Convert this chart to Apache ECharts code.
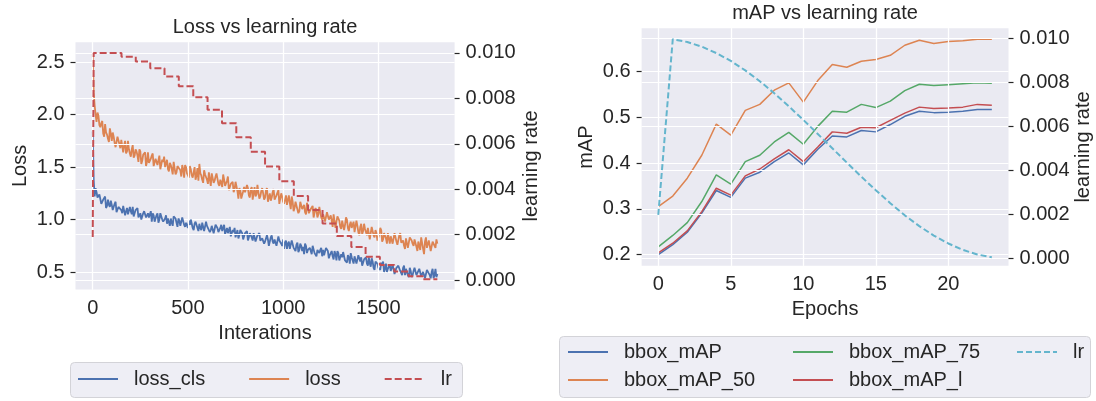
<!DOCTYPE html>
<html>
<head>
<meta charset="utf-8">
<script src="https://cdn.jsdelivr.net/npm/echarts@6/dist/echarts.min.js"></script>
<style>
  html, body { margin: 0; padding: 0; background: #ffffff; }
  #chart { width: 1096px; height: 401px; }
</style>
</head>
<body>
<div id="chart"></div>
<script>
// ---- training log: losses sampled every 5 iterations ----
const lossStep = 5;
const lossCls = [
  1.84, 1.38, 1.22, 1.30, 1.26, 1.21, 1.20, 1.24, 1.25, 1.15, 1.15, 1.19, 1.19, 1.22, 1.11, 1.13, 1.19, 1.14, 1.12, 1.18,
  1.14, 1.09, 1.10, 1.15, 1.17, 1.07, 1.07, 1.12, 1.12, 1.13, 1.09, 1.06, 1.13, 1.14, 1.04, 1.08, 1.11, 1.05, 1.06, 1.12,
  1.08, 1.05, 1.12, 1.03, 1.03, 1.09, 1.08, 1.11, 1.02, 1.04, 1.06, 1.00, 1.00, 1.06, 1.08, 1.08, 1.02, 1.01, 1.06, 1.02,
  1.02, 1.08, 0.98, 1.06, 1.04, 0.98, 0.99, 1.04, 1.06, 0.97, 1.00, 1.06, 1.06, 1.00, 0.98, 0.97, 1.01, 1.04, 0.96, 1.01,
  1.02, 0.94, 1.01, 0.97, 0.94, 1.03, 1.02, 1.01, 0.97, 0.93, 1.01, 0.99, 0.94, 0.94, 1.02, 1.02, 0.95, 0.93, 0.97, 0.98,
  0.92, 0.99, 0.95, 1.00, 0.99, 0.92, 0.90, 0.96, 0.98, 0.99, 0.92, 0.89, 0.96, 0.92, 0.90, 0.97, 0.98, 0.89, 0.90, 0.98,
  0.94, 0.94, 0.95, 0.88, 0.90, 0.94, 0.93, 0.87, 0.86, 0.95, 0.95, 0.92, 0.88, 0.88, 0.92, 0.95, 0.89, 0.88, 0.95, 0.86,
  0.85, 0.92, 0.87, 0.90, 0.93, 0.84, 0.85, 0.90, 0.88, 0.92, 0.83, 0.84, 0.90, 0.82, 0.85, 0.90, 0.90, 0.87, 0.81, 0.84,
  0.87, 0.88, 0.89, 0.80, 0.83, 0.87, 0.86, 0.83, 0.80, 0.87, 0.88, 0.79, 0.78, 0.85, 0.85, 0.87, 0.80, 0.79, 0.82, 0.82,
  0.77, 0.79, 0.78, 0.85, 0.81, 0.75, 0.76, 0.83, 0.85, 0.79, 0.77, 0.81, 0.82, 0.75, 0.74, 0.84, 0.80, 0.79, 0.77, 0.75,
  0.81, 0.72, 0.78, 0.80, 0.72, 0.77, 0.79, 0.72, 0.73, 0.80, 0.80, 0.73, 0.74, 0.70, 0.76, 0.78, 0.69, 0.71, 0.77, 0.75,
  0.70, 0.74, 0.67, 0.77, 0.75, 0.68, 0.71, 0.71, 0.73, 0.74, 0.67, 0.75, 0.76, 0.68, 0.67, 0.65, 0.71, 0.72, 0.68, 0.71,
  0.73, 0.65, 0.71, 0.66, 0.65, 0.73, 0.73, 0.70, 0.63, 0.66, 0.68, 0.70, 0.65, 0.62, 0.70, 0.67, 0.61, 0.70, 0.68, 0.61,
  0.64, 0.67, 0.64, 0.69, 0.69, 0.61, 0.62, 0.59, 0.66, 0.64, 0.58, 0.68, 0.64, 0.61, 0.58, 0.65, 0.64, 0.58, 0.58, 0.66,
  0.65, 0.60, 0.64, 0.56, 0.56, 0.62, 0.61, 0.64, 0.58, 0.56, 0.64, 0.58, 0.55, 0.63, 0.60, 0.54, 0.52, 0.60, 0.61, 0.58,
  0.54, 0.54, 0.52, 0.59, 0.57, 0.60, 0.50, 0.53, 0.58, 0.50, 0.53, 0.55, 0.57, 0.51, 0.51, 0.57, 0.58, 0.48, 0.49, 0.54,
  0.53, 0.56, 0.57, 0.51, 0.50, 0.47, 0.54, 0.56, 0.47, 0.53, 0.52, 0.47, 0.45, 0.54, 0.51, 0.45, 0.47, 0.51, 0.54, 0.53,
  0.47, 0.47, 0.47, 0.53, 0.53, 0.46, 0.46, 0.50, 0.50, 0.44, 0.44, 0.52, 0.52, 0.51, 0.47, 0.44, 0.50, 0.53, 0.44, 0.47,
  0.53, 0.45, 0.48
];
const lossTotal = [
  2.59, 2.21, 2.09, 2.00, 1.93, 2.02, 1.99, 1.90, 1.88, 1.92, 1.94, 1.82, 1.79, 1.91, 1.83, 1.81, 1.77, 1.74, 1.87, 1.82,
  1.75, 1.83, 1.79, 1.73, 1.69, 1.74, 1.79, 1.80, 1.72, 1.68, 1.76, 1.75, 1.64, 1.71, 1.75, 1.63, 1.65, 1.75, 1.67, 1.63,
  1.60, 1.67, 1.71, 1.59, 1.61, 1.67, 1.65, 1.61, 1.55, 1.67, 1.65, 1.53, 1.56, 1.62, 1.61, 1.64, 1.51, 1.55, 1.64, 1.54,
  1.56, 1.58, 1.61, 1.63, 1.51, 1.51, 1.58, 1.58, 1.52, 1.53, 1.61, 1.48, 1.47, 1.57, 1.55, 1.60, 1.50, 1.51, 1.57, 1.48,
  1.46, 1.54, 1.52, 1.48, 1.43, 1.55, 1.55, 1.43, 1.45, 1.51, 1.51, 1.52, 1.47, 1.41, 1.52, 1.48, 1.40, 1.52, 1.50, 1.44,
  1.42, 1.40, 1.51, 1.48, 1.42, 1.40, 1.45, 1.50, 1.38, 1.42, 1.49, 1.37, 1.53, 1.44, 1.42, 1.38, 1.35, 1.47, 1.43, 1.44,
  1.38, 1.34, 1.45, 1.38, 1.32, 1.44, 1.43, 1.35, 1.37, 1.41, 1.44, 1.44, 1.34, 1.32, 1.38, 1.35, 1.31, 1.43, 1.38, 1.32,
  1.31, 1.37, 1.41, 1.28, 1.31, 1.34, 1.33, 1.36, 1.26, 1.29, 1.36, 1.36, 1.27, 1.20, 1.30, 1.28, 1.20, 1.21, 1.27, 1.31,
  1.26, 1.25, 1.33, 1.30, 1.23, 1.21, 1.29, 1.31, 1.19, 1.25, 1.31, 1.22, 1.24, 1.33, 1.26, 1.20, 1.22, 1.27, 1.30, 1.25,
  1.19, 1.21, 1.28, 1.30, 1.17, 1.21, 1.25, 1.18, 1.21, 1.26, 1.29, 1.19, 1.19, 1.23, 1.24, 1.28, 1.15, 1.14, 1.25, 1.22,
  1.17, 1.15, 1.19, 1.23, 1.14, 1.15, 1.23, 1.16, 1.10, 1.22, 1.17, 1.08, 1.11, 1.17, 1.18, 1.16, 1.06, 1.08, 1.17, 1.16,
  1.10, 1.09, 1.14, 1.07, 1.05, 1.16, 1.16, 1.06, 1.07, 1.10, 1.10, 1.13, 1.02, 1.02, 1.11, 1.09, 1.02, 1.05, 1.12, 1.13,
  1.02, 1.00, 1.05, 1.06, 0.98, 0.99, 1.07, 1.08, 1.00, 0.99, 1.04, 0.99, 0.93, 1.05, 1.05, 0.92, 0.98, 1.03, 1.02, 0.99,
  0.93, 0.91, 0.99, 1.00, 0.90, 0.95, 1.02, 1.00, 0.92, 0.89, 0.95, 0.98, 0.92, 0.92, 0.98, 0.88, 0.87, 0.99, 0.94, 0.88,
  0.85, 0.93, 0.96, 0.86, 0.89, 0.96, 0.91, 0.88, 0.85, 0.92, 0.92, 0.81, 0.81, 0.93, 0.92, 0.85, 0.83, 0.90, 0.87, 0.80,
  0.83, 0.86, 0.92, 0.90, 0.79, 0.81, 0.87, 0.86, 0.82, 0.77, 0.87, 0.87, 0.77, 0.84, 0.84, 0.77, 0.78, 0.87, 0.87, 0.79,
  0.76, 0.76, 0.85, 0.87, 0.78, 0.79, 0.80, 0.75, 0.72, 0.82, 0.82, 0.73, 0.73, 0.83, 0.84, 0.80, 0.77, 0.75, 0.81, 0.81,
  0.74, 0.70, 0.79, 0.78, 0.71, 0.83, 0.82, 0.72, 0.67, 0.79, 0.83, 0.73, 0.74, 0.80, 0.79, 0.70, 0.71, 0.79, 0.77, 0.75,
  0.73, 0.81, 0.77
];

// ---- learning-rate schedule: value holds from each iteration until the next ----
const lrStepIter  = [0, 5, 151, 226, 302, 377, 452, 528, 603, 679, 754, 830, 905,
                     980, 1056, 1131, 1207, 1282, 1358, 1433, 1508, 1584, 1659, 1735, 1810];
const lrStepValue = [0.00190, 0.01000, 0.00983, 0.00962, 0.00933, 0.00897, 0.00854,
                     0.00805, 0.00750, 0.00691, 0.00629, 0.00565, 0.00500, 0.00435,
                     0.00371, 0.00309, 0.00250, 0.00195, 0.00146, 0.00103, 0.00067,
                     0.00038, 0.00017, 0.00004, 0.00004];

// ---- per-epoch evaluation ----
const epochs = [0, 1, 2, 3, 4, 5, 6, 7, 8, 9, 10, 11, 12, 13, 14, 15, 16, 17, 18, 19, 20, 21, 22, 23];
const bboxMAP   = [0.200, 0.222, 0.249, 0.291, 0.340, 0.325, 0.367, 0.380, 0.403, 0.422, 0.396, 0.430,
                   0.459, 0.457, 0.471, 0.468, 0.484, 0.502, 0.513, 0.510, 0.511, 0.513, 0.517, 0.517];
const bboxMAP50 = [0.305, 0.328, 0.367, 0.417, 0.485, 0.461, 0.515, 0.528, 0.559, 0.575, 0.533, 0.580,
                   0.615, 0.609, 0.622, 0.626, 0.635, 0.657, 0.668, 0.661, 0.665, 0.667, 0.670, 0.670];
const bboxMAP75 = [0.217, 0.242, 0.270, 0.316, 0.374, 0.354, 0.403, 0.417, 0.446, 0.467, 0.441, 0.480,
                   0.513, 0.511, 0.528, 0.521, 0.535, 0.558, 0.572, 0.569, 0.571, 0.573, 0.575, 0.574];
const bboxMAPl  = [0.204, 0.225, 0.252, 0.294, 0.345, 0.330, 0.372, 0.387, 0.409, 0.429, 0.403, 0.435,
                   0.468, 0.465, 0.478, 0.477, 0.493, 0.509, 0.522, 0.519, 0.520, 0.522, 0.528, 0.526];
const lrEpoch   = [0.00197, 0.00996, 0.00983, 0.00962, 0.00933, 0.00897, 0.00854, 0.00805, 0.00750,
                   0.00691, 0.00629, 0.00565, 0.00500, 0.00435, 0.00371, 0.00309, 0.00250, 0.00195,
                   0.00146, 0.00103, 0.00067, 0.00038, 0.00017, 0.00004];

// ---- tick labels ----
const iterTicks  = [0, 500, 1000, 1500];
const lossTicks  = [0.5, 1.0, 1.5, 2.0, 2.5];
const lrTicks    = [0, 0.002, 0.004, 0.006, 0.008, 0.010];
const epochTicks = [0, 5, 10, 15, 20];
const mapTicks   = [0.2, 0.3, 0.4, 0.5, 0.6];

// ---- style ----
const INK = '#262626';
const PANEL = '#EAEAF2';
const FONT = '"Liberation Sans", Arial, Helvetica, sans-serif';
const TXT = { color: INK, fontSize: 20, fontFamily: FONT, fontWeight: 'normal' };
const GRIDLINE = { color: '#FFFFFF', width: 1.2 };
const C = { blue: '#4C72B0', orange: '#DD8452', green: '#55A868', red: '#C44E52', cyan: '#64B5CD' };

function xAxisOf(gridIndex, min, max, ticks, name, overlay) {
  return {
    type: 'value', gridIndex, min, max,
    position: overlay ? 'top' : 'bottom',
    z: overlay ? 3 : 0,
    axisLine: { show: false, onZero: false },
    axisTick: { show: false, customValues: ticks },
    axisLabel: overlay ? { show: false, customValues: ticks }
                       : Object.assign({ customValues: ticks, margin: 9,
                                         formatter: v => String(v) }, TXT),
    splitLine: { show: true, lineStyle: GRIDLINE },
    name: overlay ? '' : name,
    nameLocation: 'middle', nameGap: 31,
    nameTextStyle: TXT
  };
}

function yAxisOf(gridIndex, side, min, max, ticks, digits, name, nameGap, z) {
  return {
    type: 'value', gridIndex, position: side, min, max, z,
    axisLine: { show: false, onZero: false },
    axisTick: { show: true, length: 5, inside: false, customValues: ticks,
                lineStyle: { color: INK, width: 1.2 } },
    axisLabel: Object.assign({ customValues: ticks, margin: 11,
                               formatter: v => v.toFixed(digits) }, TXT),
    splitLine: { show: true, lineStyle: GRIDLINE },
    name, nameLocation: 'middle', nameGap,
    nameTextStyle: TXT
  };
}

function lineSeries(name, xi, yi, data, color, extra) {
  return Object.assign({
    type: 'line', name, xAxisIndex: xi, yAxisIndex: yi, data,
    symbol: 'none', showSymbol: false, z: 2,
    lineStyle: { color, width: 1.5 },
    itemStyle: { color },
    emphasis: { disabled: true }
  }, extra || {});
}

const iterData = arr => arr.map((v, i) => [i * lossStep, v]);
const epochData = arr => arr.map((v, i) => [epochs[i], v]);
const lrIterData = lrStepIter.map((it, i) => [it, lrStepValue[i]]);

// legend keys show only the line sample, no marker
const legendBase = {
  itemWidth: 40, itemHeight: 14, padding: 0, selectedMode: false,
  itemStyle: { color: 'rgba(0,0,0,0)', borderColor: 'rgba(0,0,0,0)', borderWidth: 0, opacity: 0 },
  textStyle: Object.assign({ padding: [0, 0, 0, 11] }, TXT),
  formatter: n => (n === 'lr_epoch' ? 'lr' : n)
};

const option = {
  animation: false,
  backgroundColor: '#ffffff',
  title: [
    { text: 'Loss vs learning rate', left: 265, top: 17, textAlign: 'center', padding: 0,
      textStyle: TXT },
    { text: 'mAP vs learning rate', left: 825, top: 3, textAlign: 'center', padding: 0,
      textStyle: TXT }
  ],
  grid: [
    { left: 75.5, top: 42.3, width: 379.1, height: 247.2, show: true,
      backgroundColor: PANEL, borderWidth: 0, containLabel: false, outerBoundsMode: 'none' },
    { left: 641.6, top: 28.3, width: 366.9, height: 237.4, show: true,
      backgroundColor: PANEL, borderWidth: 0, containLabel: false, outerBoundsMode: 'none' }
  ],
  xAxis: [
    xAxisOf(0, -90.5, 1900.5, iterTicks, 'Interations', false),
    xAxisOf(0, -90.5, 1900.5, iterTicks, '', true),
    xAxisOf(1, -1.15, 24.15, epochTicks, 'Epochs', false),
    xAxisOf(1, -1.15, 24.15, epochTicks, '', true)
  ],
  yAxis: [
    yAxisOf(0, 'left', 0.333, 2.69, lossTicks, 1, 'Loss', 45, 0),
    yAxisOf(0, 'right', -0.00041, 0.01047, lrTicks, 3, 'learning rate', 67, 3),
    yAxisOf(1, 'left', 0.176, 0.694, mapTicks, 1, 'mAP', 45, 0),
    yAxisOf(1, 'right', -0.00034, 0.010455, lrTicks, 3, 'learning rate', 63, 3)
  ],
  legend: [
    Object.assign({}, legendBase, { left: 77, top: 369, orient: 'horizontal', itemGap: 43,
      data: ['loss_cls', 'loss', 'lr'] }),
    Object.assign({}, legendBase, { left: 567, top: 342, orient: 'vertical', itemGap: 8,
      data: ['bbox_mAP', 'bbox_mAP_50'] }),
    Object.assign({}, legendBase, { left: 792, top: 342, orient: 'vertical', itemGap: 8,
      data: ['bbox_mAP_75', 'bbox_mAP_l'] }),
    Object.assign({}, legendBase, { left: 1016, top: 342, orient: 'vertical', itemGap: 8,
      data: ['lr_epoch'] })
  ],
  graphic: [
    { type: 'rect', z: 0, silent: true,
      shape: { x: 70.5, y: 362.5, width: 392, height: 35, r: 4 },
      style: { fill: '#EEEEF5', stroke: '#D3D3D8', lineWidth: 1 } },
    { type: 'rect', z: 0, silent: true,
      shape: { x: 559.5, y: 336.5, width: 531, height: 61, r: 4 },
      style: { fill: '#EEEEF5', stroke: '#D3D3D8', lineWidth: 1 } }
  ],
  series: [
    lineSeries('loss_cls', 0, 0, iterData(lossCls), C.blue, { lineStyle: { color: C.blue, width: 1.8 } }),
    lineSeries('loss', 0, 0, iterData(lossTotal), C.orange, { lineStyle: { color: C.orange, width: 1.8 } }),
    lineSeries('lr', 0, 1, lrIterData, C.red,
      { step: 'end', z: 4, lineStyle: { color: C.red, width: 2, type: [7, 3] } }),
    lineSeries('bbox_mAP', 2, 2, epochData(bboxMAP), C.blue),
    lineSeries('bbox_mAP_50', 2, 2, epochData(bboxMAP50), C.orange),
    lineSeries('bbox_mAP_75', 2, 2, epochData(bboxMAP75), C.green),
    lineSeries('bbox_mAP_l', 2, 2, epochData(bboxMAPl), C.red),
    lineSeries('lr_epoch', 2, 3, epochData(lrEpoch), C.cyan,
      { z: 4, lineStyle: { color: C.cyan, width: 2, type: [6, 3] } })
  ]
};

const chart = echarts.init(document.getElementById('chart'), null, { renderer: 'canvas' });
chart.setOption(option);
</script>
</body>
</html>
